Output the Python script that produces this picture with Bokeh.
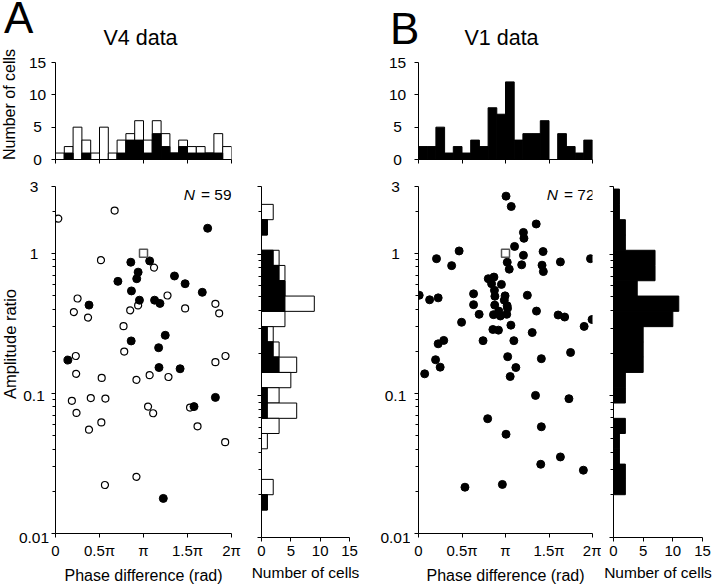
import math
from bokeh.plotting import figure
from bokeh.layouts import row, column
from bokeh.models import Range1d, FixedTicker, Label, Spacer, GlobalInlineStyleSheet, LogScale
from bokeh.embed import file_html
from bokeh.resources import INLINE

FONT = "Liberation Sans"

# ---------------- data (phase in units of pi, amplitude ratio) ----------------
v4_open_phase = [0.032, 0.672, 0.517, 1.120, 0.251, 0.209, 0.370, 0.939, 0.849, 1.273,
                 1.473, 1.817, 1.860, 0.773, 0.781, 0.231, 0.235, 0.525, 0.920, 1.070,
                 1.284, 1.817, 1.932, 0.186, 0.401, 0.567, 0.239, 1.052, 1.110, 1.529,
                 0.521, 0.381, 1.614, 1.928, 0.920, 0.562]
v4_open_ratio = [1.77, 2.02, 0.893, 0.791, 0.476, 0.381, 0.348, 0.425, 0.392, 0.50,
                 0.404, 0.436, 0.373, 0.302, 0.199, 0.185, 0.138, 0.129, 0.125, 0.135,
                 0.131, 0.167, 0.185, 0.0885, 0.0927, 0.0918, 0.0726, 0.0805, 0.0722, 0.0792,
                 0.0621, 0.0551, 0.0582, 0.0449, 0.0254, 0.0222]
v4_filled_phase = [1.729, 0.856, 1.070, 0.939, 0.923, 0.709, 1.352, 1.473, 0.863, 1.668,
                   0.954, 1.126, 1.187, 0.381, 1.247, 0.860, 1.172, 0.141, 1.176, 1.416,
                   1.817, 1.574, 1.225]
v4_filled_ratio = [1.51, 0.864, 0.883, 0.734, 0.659, 0.631, 0.689, 0.607, 0.539, 0.527,
                   0.463, 0.463, 0.439, 0.427, 0.26, 0.237, 0.212, 0.173, 0.153, 0.150,
                   0.0937, 0.0805, 0.0178]

v1_phase = [1.006, 1.066, 1.353, 1.206, 1.212, 1.104, 0.467, 1.432, 1.206, 0.207,
            1.977, 1.020, 1.631, 0.381, 1.186, 1.420, 1.043, 1.435, 0.802, 0.867,
            0.840, 0.953, 0.873, 0.008, 0.633, 0.226, 0.128, 0.878, 0.995, 0.986,
            1.251, 0.633, 0.876, 1.019, 1.023, 0.697, 0.862, 0.923, 0.941, 1.014,
            1.356, 1.605, 1.680, 0.495, 1.062, 1.995, 1.904, 0.855, 0.919, 1.307,
            0.290, 0.226, 0.742, 1.096, 1.748, 0.196, 1.025, 1.412, 0.249, 1.119,
            0.071, 1.054, 1.345, 1.729, 0.795, 1.006, 1.412, 1.631, 1.405, 1.895,
            0.534, 0.964]
v1_ratio = [2.56, 2.16, 1.62, 1.41, 1.28, 1.12, 1.04, 1.03, 0.968, 0.916,
            0.916, 0.864, 0.869, 0.817, 0.828, 0.823, 0.771, 0.741, 0.659, 0.677,
            0.607, 0.600, 0.544, 0.502, 0.514, 0.481, 0.466, 0.494, 0.497, 0.463,
            0.502, 0.430, 0.427, 0.423, 0.405, 0.367, 0.365, 0.387, 0.357, 0.367,
            0.387, 0.363, 0.351, 0.322, 0.307, 0.337, 0.301, 0.286, 0.283, 0.272,
            0.239, 0.226, 0.238, 0.238, 0.196, 0.174, 0.183, 0.177, 0.154, 0.153,
            0.138, 0.132, 0.0968, 0.0917, 0.066, 0.0511, 0.0578, 0.0352, 0.0312, 0.0283,
            0.0214, 0.0224]

ref_phase = [1.0]
ref_ratio = [1.0]

# phase histograms (20 bins of 0.1 pi)
phase_bin_edges = [0.0, 0.1, 0.2, 0.3, 0.4, 0.5, 0.6, 0.7, 0.8, 0.9, 1.0,
                   1.1, 1.2, 1.3, 1.4, 1.5, 1.6, 1.7, 1.8, 1.9, 2.0]
v4_phase_total = [1, 2, 5, 3, 1, 5, 1, 3, 4, 6, 3, 6, 4, 1, 3, 2, 2, 1, 4, 2]
v4_phase_filled = [0, 1, 0, 1, 0, 0, 0, 1, 3, 3, 1, 4, 2, 1, 2, 1, 1, 1, 1, 0]
v1_phase_count = [2, 2, 5, 1, 2, 1, 3, 2, 8, 7, 12, 3, 4, 4, 6, 0, 4, 2, 1, 3]

# amplitude-ratio histograms (log10 bin edges, top to bottom)
ratio_bin_edges_log10 = [0.459, 0.351, 0.243, 0.135, 0.027, -0.080, -0.188, -0.296,
                         -0.404, -0.512, -0.620, -0.727, -0.835, -0.943, -1.051,
                         -1.159, -1.266, -1.374, -1.482, -1.590, -1.698, -1.806]
v4_ratio_total = [0, 2, 1, 0, 3, 4, 4, 9, 4, 2, 3, 6, 5, 3, 6, 3, 1, 0, 0, 2, 1]
v4_ratio_filled = [0, 0, 1, 0, 2, 3, 4, 4, 0, 1, 2, 3, 0, 1, 1, 0, 0, 0, 0, 0, 1]
v1_ratio_count = [1, 1, 2, 2, 7, 7, 4, 11, 10, 5, 5, 5, 2, 2, 0, 2, 1, 1, 2, 2, 0]

phase_ticks = [0, 0.5, 1, 1.5, 2]
phase_tick_labels = ["0", "0.5π", "π", "1.5π", "2π"]
ratio_ticks = [0.01, 0.1, 1, 3]
ratio_tick_labels = ["0.01", "0.1", "1", "3"]
ratio_minor_ticks = [0.02, 0.03, 0.04, 0.05, 0.06, 0.07, 0.08, 0.09,
                     0.2, 0.3, 0.4, 0.5, 0.6, 0.7, 0.8, 0.9, 2]
count_ticks = [0, 5, 10, 15]
count_tick_labels = ["0", "5", "10", "15"]

panel_letters = ["A", "B"]
panel_titles = ["V4 data", "V1 data"]
n_texts = ["= 59", "= 72"]

RATIO_MIN, RATIO_MAX = 0.01, 3
COUNT_MAX = 15

# layout (pixels)
PAGE_H = 586
BANNER_H = 52
TOP_H, TOP_BT, TOP_BB = 113, 10, 6
MAIN_H, MAIN_BT, MAIN_BB = 421, 21, 49
STRIP_A_W = 50
SPLIT = 172           # where the tick-label strips change from counts to ratios
TOP_FRAME_BOTTOM = BANNER_H + TOP_H - TOP_BB
MAIN_FRAME_TOP = BANNER_H + TOP_H + MAIN_BT


def make_fig(w, h, bl, br, bt, bb, xr, yr, ylog=False):
    p = figure(width=w, height=h, x_range=xr, y_range=yr,
               y_axis_type="log" if ylog else "linear",
               output_backend="svg", toolbar_location=None,
               min_border_left=bl, min_border_right=br,
               min_border_top=bt, min_border_bottom=bb)
    p.outline_line_color = None
    p.grid.visible = False
    p.background_fill_color = "white"
    p.border_fill_color = "white"
    for ax in p.axis:
        ax.axis_line_color = "black"
        ax.axis_line_width = 1
        ax.major_tick_line_color = "black"
        ax.minor_tick_line_color = "black"
        ax.major_tick_in = 0
        ax.major_tick_out = 4
        ax.minor_tick_in = 0
        ax.minor_tick_out = 3
        ax.major_label_text_font = FONT
        ax.major_label_text_font_size = "15px"
        ax.major_label_text_color = "black"
        ax.major_label_standoff = 4
        ax.axis_label_text_font = FONT
        ax.axis_label_text_font_size = "16px"
        ax.axis_label_text_font_style = "normal"
        ax.axis_label_text_color = "black"
        ax.axis_label_standoff = 5
    return p


def bare_fig(w, h, xr, yr):
    p = figure(width=w, height=h, x_range=xr, y_range=yr,
               output_backend="svg", toolbar_location=None,
               x_axis_location=None, y_axis_location=None,
               min_border_left=0, min_border_right=0, min_border_top=0, min_border_bottom=0)
    p.outline_line_color = None
    p.grid.visible = False
    p.background_fill_color = "white"
    p.border_fill_color = "white"
    return p


def hide_labels(ax, ticks):
    ax.major_label_overrides = {t: "" for t in ticks}
    ax.major_label_standoff = 0


def label(p, s, x, y, size, align="left", baseline="middle", style="normal",
          angle=0.0, y_units="screen"):
    p.add_layout(Label(x=x, y=y, x_units="screen", y_units=y_units, text=s,
                       text_font=FONT, text_font_size=f"{size}px",
                       text_align=align, text_baseline=baseline, angle=angle,
                       text_font_style=style, text_color="black"))


def phase_hist(p, counts, fill):
    l, r, t = [], [], []
    for i, c in enumerate(counts):
        if c > 0:
            l.append(phase_bin_edges[i]); r.append(phase_bin_edges[i + 1]); t.append(c)
    p.quad(left=l, right=r, bottom=0, top=t, fill_color=fill, line_color="black", line_width=1)


def ratio_hist(p, counts, fill):
    b, t, r = [], [], []
    for i, c in enumerate(counts):
        if c > 0:
            t.append(10 ** ratio_bin_edges_log10[i]); b.append(10 ** ratio_bin_edges_log10[i + 1]); r.append(c)
    p.quad(left=0, right=r, bottom=b, top=t, fill_color=fill, line_color="black", line_width=1)


def top_hist(w, bl, br):
    p = make_fig(w, TOP_H, bl, br, TOP_BT, TOP_BB, Range1d(0, 2), Range1d(0, COUNT_MAX))
    p.xaxis.ticker = FixedTicker(ticks=phase_ticks)
    hide_labels(p.xaxis[0], phase_ticks)
    p.yaxis.ticker = FixedTicker(ticks=count_ticks)
    hide_labels(p.yaxis[0], count_ticks)
    return p


def scatter_fig(w, bl, br):
    p = make_fig(w, MAIN_H, bl, br, MAIN_BT, MAIN_BB, Range1d(0, 2),
                 Range1d(RATIO_MIN, RATIO_MAX), ylog=True)
    p.xaxis.ticker = FixedTicker(ticks=phase_ticks)
    p.xaxis.major_label_overrides = dict(zip(phase_ticks, phase_tick_labels))
    p.xaxis.axis_label = "Phase difference (rad)"
    p.yaxis.ticker = FixedTicker(ticks=ratio_ticks, minor_ticks=ratio_minor_ticks)
    hide_labels(p.yaxis[0], ratio_ticks)
    return p


def right_hist(w, bl, br):
    p = make_fig(w, MAIN_H, bl, br, MAIN_BT, MAIN_BB, Range1d(0, COUNT_MAX),
                 Range1d(RATIO_MIN, RATIO_MAX), ylog=True)
    p.xaxis.ticker = FixedTicker(ticks=count_ticks)
    p.xaxis.axis_label = "Number of cells"
    p.xaxis.axis_label_text_font_size = "15.5px"
    p.yaxis.ticker = FixedTicker(ticks=ratio_ticks, minor_ticks=ratio_minor_ticks)
    hide_labels(p.yaxis[0], ratio_ticks)
    return p


def count_strip(w, top, tick_x):
    # tick labels on the same vertical scale as the top histograms (strip spans top..SPLIT)
    ppu = (TOP_H - TOP_BT - TOP_BB) / COUNT_MAX
    bt = BANNER_H + TOP_BT - top
    bb = SPLIT - TOP_FRAME_BOTTOM
    p = bare_fig(w, SPLIT - top, Range1d(0, w),
                 Range1d(-bb / ppu, COUNT_MAX + bt / ppu))
    for v, s in zip(count_ticks, count_tick_labels):
        label(p, s, tick_x, v, 15.5, align="center", y_units="data")
    return p


def ratio_strip(w, tick_x, ylabel=None):
    # tick labels on the same log scale as the scatter plots (strip spans SPLIT..page bottom)
    lo, hi = math.log10(RATIO_MIN), math.log10(RATIO_MAX)
    ppd = (MAIN_H - MAIN_BT - MAIN_BB) / (hi - lo)
    bt = MAIN_FRAME_TOP - SPLIT
    p = bare_fig(w, PAGE_H - SPLIT, Range1d(0, w),
                 Range1d(10 ** (lo - MAIN_BB / ppd), 10 ** (hi + bt / ppd)))
    p.y_scale = LogScale()
    for v, s in zip(ratio_ticks, ratio_tick_labels):
        label(p, s, tick_x, v, 15.5, align="center", y_units="data")
    if ylabel:
        label(p, ylabel, 9, PAGE_H - 343.5, 16.5, align="center", angle=math.pi / 2)
    return p


# ---------------- left strip of panel A (letter, y labels, tick labels) ----------------
stripA_top = count_strip(STRIP_A_W, 0, 37)
label(stripA_top, panel_letters[0], 3.5, SPLIT - 16.7, 44)
label(stripA_top, "Number of cells", 9, SPLIT - 104, 16, align="center", angle=math.pi / 2)
stripA_bot = ratio_strip(STRIP_A_W, 33.5, ylabel="Amplitude ratio")

# ---------------- banner with titles and letter B ----------------
banner = bare_fig(720 - STRIP_A_W, BANNER_H, Range1d(0, 720 - STRIP_A_W), Range1d(0, BANNER_H))
label(banner, panel_letters[1], 389.5 - STRIP_A_W, BANNER_H - 28.3, 44)
label(banner, panel_titles[0], 140 - STRIP_A_W, BANNER_H - 37.5, 21.5, align="center")
label(banner, panel_titles[1], 501 - STRIP_A_W, BANNER_H - 37.5, 21.5, align="center")

# ---------------- panel A ----------------
topA = top_hist(198, 5, 16)
phase_hist(topA, v4_phase_total, "white")
phase_hist(topA, v4_phase_filled, "black")

scA = scatter_fig(198, 4, 17)
scA.scatter(v4_open_phase, v4_open_ratio, marker="circle", size=7,
            fill_color="white", line_color="black", line_width=1.2)
scA.scatter(v4_filled_phase, v4_filled_ratio, marker="circle", size=8,
            fill_color="black", line_color="black")
scA.scatter(ref_phase, ref_ratio, marker="square", size=8, fill_color="white",
            line_color="#555555", line_width=1.5)
label(scA, n_texts[0], 176, 339, 15.5, align="right", baseline="alphabetic")
label(scA, "N", 139.5, 339, 15.5, align="right", baseline="alphabetic", style="italic")

rA = right_hist(120, 13, 19)
ratio_hist(rA, v4_ratio_total, "white")
ratio_hist(rA, v4_ratio_filled, "black")

# ---------------- panel B ----------------
stripB_top = count_strip(42, BANNER_H, 29)
stripB_bot = ratio_strip(42, 27)

topB = top_hist(191, 8, 6)
phase_hist(topB, v1_phase_count, "black")

scB = scatter_fig(191, 5, 9)
scB.scatter(v1_phase, v1_ratio, marker="circle", size=8,
            fill_color="black", line_color="black")
scB.scatter(ref_phase, ref_ratio, marker="square", size=8, fill_color="white",
            line_color="#555555", line_width=1.5)
label(scB, n_texts[1], 176, 339, 15.5, align="right", baseline="alphabetic")
label(scB, "N", 139.5, 339, 15.5, align="right", baseline="alphabetic", style="italic")

rB = right_hist(119, 12, 18)
ratio_hist(rB, v1_ratio_count, "black")

layout = row(
    column(stripA_top, stripA_bot),
    column(
        banner,
        row(
            column(topA, scA),
            column(Spacer(width=120, height=TOP_H), rA),
            column(stripB_top, stripB_bot),
            column(topB, scB),
            column(Spacer(width=119, height=TOP_H), rB),
        ),
    ),
)
layout.stylesheets = [GlobalInlineStyleSheet(css="html, body { margin: 0; padding: 0; overflow: hidden; }")]

open("out.html", "w").write(file_html(layout, INLINE))
